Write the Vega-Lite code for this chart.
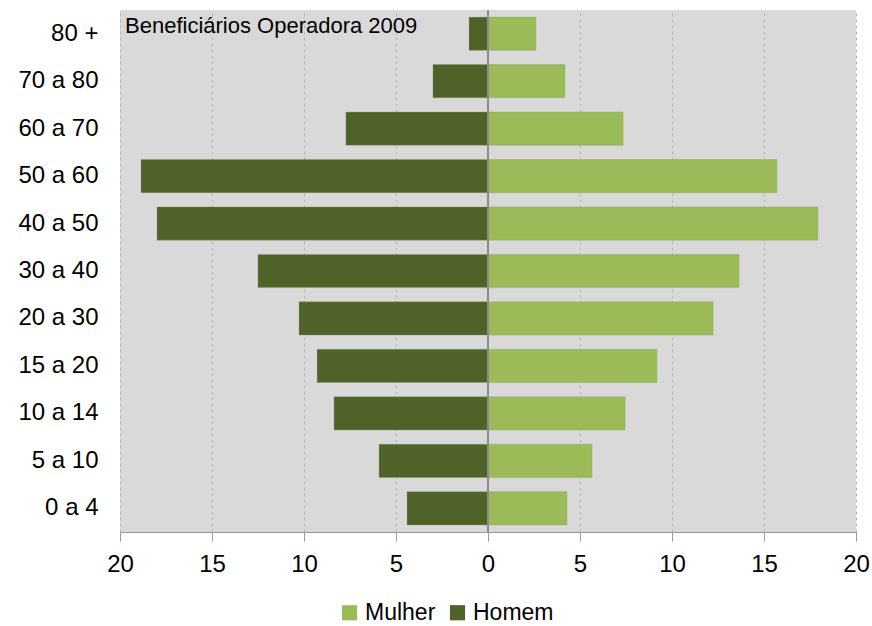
{
  "$schema": "https://vega.github.io/schema/vega-lite/v6.json",
  "width": 736,
  "height": 522,
  "autosize": {"type": "none"},
  "padding": {"left": 120, "top": 10, "right": 16, "bottom": 94},
  "background": "white",
  "config": {
    "font": "Liberation Sans",
    "view": {"fill": "#d9d9d9", "stroke": null}
  },
  "title": {
    "text": "Beneficiários Operadora 2009",
    "anchor": "start",
    "frame": "group",
    "orient": "top",
    "offset": -29,
    "dx": 5,
    "fontSize": 22,
    "fontWeight": "normal",
    "font": "Liberation Sans",
    "color": "#000000"
  },
  "data": {
    "values": [
      {"age": "80 +", "sex": "Homem", "value": -1.03},
      {"age": "70 a 80", "sex": "Homem", "value": -2.99},
      {"age": "60 a 70", "sex": "Homem", "value": -7.72},
      {"age": "50 a 60", "sex": "Homem", "value": -18.86},
      {"age": "40 a 50", "sex": "Homem", "value": -17.99},
      {"age": "30 a 40", "sex": "Homem", "value": -12.5},
      {"age": "20 a 30", "sex": "Homem", "value": -10.27},
      {"age": "15 a 20", "sex": "Homem", "value": -9.29},
      {"age": "10 a 14", "sex": "Homem", "value": -8.37},
      {"age": "5 a 10", "sex": "Homem", "value": -5.92},
      {"age": "0 a 4", "sex": "Homem", "value": -4.4},
      {"age": "80 +", "sex": "Mulher", "value": 2.6},
      {"age": "70 a 80", "sex": "Mulher", "value": 4.18},
      {"age": "60 a 70", "sex": "Mulher", "value": 7.34},
      {"age": "50 a 60", "sex": "Mulher", "value": 15.7},
      {"age": "40 a 50", "sex": "Mulher", "value": 17.93},
      {"age": "30 a 40", "sex": "Mulher", "value": 13.64},
      {"age": "20 a 30", "sex": "Mulher", "value": 12.23},
      {"age": "15 a 20", "sex": "Mulher", "value": 9.18},
      {"age": "10 a 14", "sex": "Mulher", "value": 7.45},
      {"age": "5 a 10", "sex": "Mulher", "value": 5.65},
      {"age": "0 a 4", "sex": "Mulher", "value": 4.29}
    ]
  },
  "layer": [
    {
      "mark": {"type": "bar", "stroke": "#8a9a6a", "strokeWidth": 0.6, "strokeOpacity": 0.6},
      "encoding": {
        "y": {
          "field": "age",
          "type": "nominal",
          "sort": ["80 +", "70 a 80", "60 a 70", "50 a 60", "40 a 50", "30 a 40", "20 a 30", "15 a 20", "10 a 14", "5 a 10", "0 a 4"],
          "scale": {"paddingInner": 0.3, "paddingOuter": 0.15},
          "axis": {
            "title": null,
            "domain": false,
            "ticks": false,
            "labelFontSize": 24,
            "labelColor": "#000000",
            "labelPadding": 22,
            "grid": false
          }
        },
        "x": {
          "field": "value",
          "type": "quantitative",
          "scale": {"domain": [-20, 20], "nice": false},
          "axis": {
            "title": null,
            "values": [-20, -15, -10, -5, 0, 5, 10, 15, 20],
            "labelExpr": "abs(datum.value)",
            "labelFlush": false,
            "labelFontSize": 24,
            "labelColor": "#000000",
            "labelPadding": 11,
            "tickSize": 9,
            "tickColor": "#999999",
            "domainColor": "#999999",
            "grid": true,
            "gridColor": "#b5b5b5",
            "gridDash": [3, 3],
            "gridWidth": 1
          }
        },
        "color": {
          "field": "sex",
          "type": "nominal",
          "scale": {"domain": ["Mulher", "Homem"], "range": ["#9bbb59", "#4f6228"]},
          "legend": {
            "title": null,
            "orient": "none",
            "direction": "horizontal",
            "legendX": 218,
            "legendY": 591,
            "symbolType": "square",
            "symbolSize": 230,
            "symbolStrokeWidth": 0,
            "labelFontSize": 23,
            "labelColor": "#000000",
            "labelOffset": 4,
            "columnPadding": 10
          }
        }
      }
    },
    {
      "mark": {"type": "rule", "color": "#8c8c8c", "strokeWidth": 1.2},
      "encoding": {"x": {"datum": 0}}
    }
  ]
}
